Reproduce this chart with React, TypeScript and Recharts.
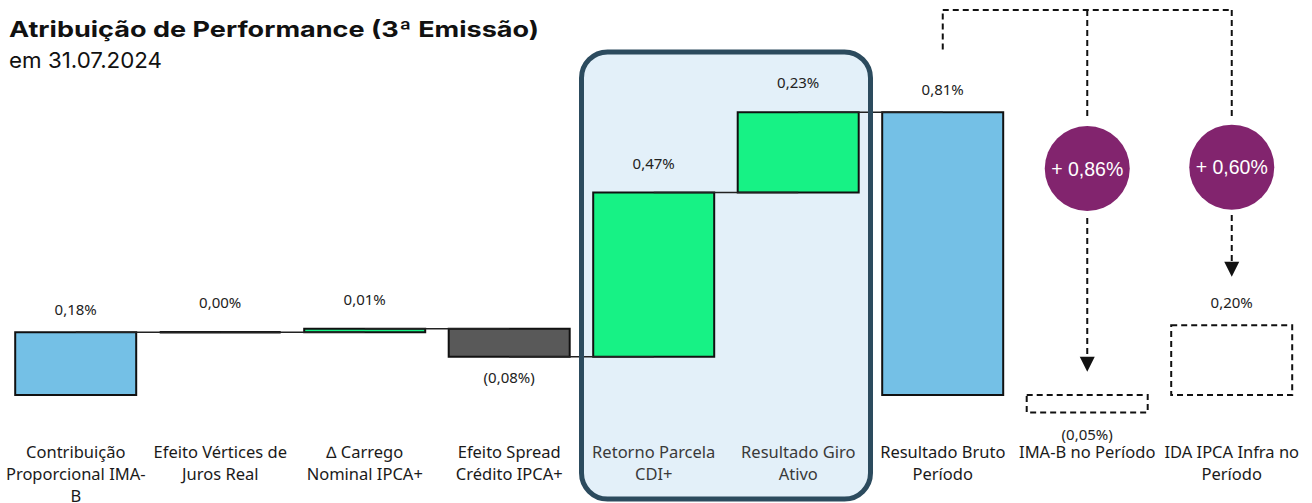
import React from 'react';
import {
  BarChart,
  Bar,
  XAxis,
  YAxis,
  ReferenceArea,
  ReferenceLine,
  ReferenceDot,
  LabelList,
} from 'recharts';

// ---------- data ----------
const categories = [
  'Contribuição Proporcional IMA-B',
  'Efeito Vértices de Juros Real',
  '∆ Carrego Nominal IPCA+',
  'Efeito Spread Crédito IPCA+',
  'Retorno Parcela CDI+',
  'Resultado Giro Ativo',
  'Resultado Bruto Período',
  'IMA-B no Período',
  'IDA IPCA Infra no Período',
];
const values = [0.18, 0.0, 0.01, -0.08, 0.47, 0.23, 0.81, -0.05, 0.2];
const kinds = ['total', 'step', 'step', 'step', 'step', 'step', 'total', 'benchmark', 'benchmark'];
const tickLines = [
  ['Contribuição', 'Proporcional IMA-', 'B'],
  ['Efeito Vértices de', 'Juros Real'],
  ['∆ Carrego', 'Nominal IPCA+'],
  ['Efeito Spread', 'Crédito IPCA+'],
  ['Retorno Parcela', 'CDI+'],
  ['Resultado Giro', 'Ativo'],
  ['Resultado Bruto', 'Período'],
  ['IMA-B no Período'],
  ['IDA IPCA Infra no', 'Período'],
];
const highlighted = ['Retorno Parcela CDI+', 'Resultado Giro Ativo'];
const bubbleTargets = ['IMA-B no Período', 'IDA IPCA Infra no Período'];
const bubbleLabels = ['+ 0,86%', '+ 0,60%'];
const sourceCategory = 'Resultado Bruto Período';

const title = 'Atribuição de Performance (3ª Emissão)';
const subtitle = 'em 31.07.2024';

// ---------- derived rows ----------
let cum = 0;
const rows = categories.map((name, i) => {
  const v = values[i];
  const kind = kinds[i];
  let low: number;
  let high: number;
  if (kind === 'step') {
    const start = cum;
    cum = Math.round((cum + v) * 10000) / 10000;
    low = Math.min(start, cum);
    high = Math.max(start, cum);
  } else {
    low = Math.min(0, v);
    high = Math.max(0, v);
    if (kind === 'total') cum = v;
  }
  return { name, value: v, kind, range: [low, high], level: cum };
});

const connectors = rows
  .map((r, i) => ({ from: r, to: rows[i + 1] }))
  .filter(
    (c) => c.to && (c.to.kind === 'step' || (c.from.kind === 'step' && c.to.kind === 'total'))
  );

// ---------- styles ----------
const BLUE = '#74C0E6';
const GREEN = '#17F285';
const GRAY = '#595959';
const PURPLE = '#82246E';
const BOX_STROKE = '#2C4B5E';
const BOX_FILL = '#E3F0F9';
const FONT = '"Noto Sans", sans-serif';

// annotation layout (in value units of the hidden y axis)
const BOX_TOP = 0.983;
const BOX_BOTTOM = -0.298;
const DASH_TOP = 1.103;
const SRC_DASH_BOTTOM = 0.99;
const BUBBLE_Y = [0.649, 0.653];
const DASH_BREAK = 0.788;
const DASH_RESUME = [0.507, 0.516];
const ARROW_BASE = [0.11, 0.382];
const ARROW_TIP = [0.067, 0.339];

const fmt = (v: number) => {
  const s = Math.abs(v).toFixed(2).replace('.', ',') + '%';
  return v < 0 ? `(${s})` : s;
};

const BarShape = (props: any) => {
  let { x, y, width, height } = props;
  const payload = props.payload;
  if (height < 0) {
    y = y + height;
    height = -height;
  }
  const d = `M${x},${y}h${width}v${height}h${-width}Z`;
  if (payload.kind === 'benchmark') {
    return <path d={d} fill="none" stroke="#111" strokeWidth={2} strokeDasharray="6 4" />;
  }
  const fill = payload.kind === 'total' ? BLUE : payload.value > 0 ? GREEN : GRAY;
  return (
    <g>
      {height > 0 && <rect x={x} y={y} width={width} height={height} fill={fill} />}
      <path d={d} fill="none" stroke="#111" strokeWidth={payload.value === 0 ? 2.5 : 2} />
    </g>
  );
};

const renderValueLabel = (props: any) => {
  const vb = props.viewBox || {};
  const x = props.x ?? vb.x;
  const y = props.y ?? vb.y;
  const width = props.width ?? vb.width;
  const height = props.height ?? vb.height;
  const row = rows[props.index];
  if (!row) return null;
  const top = Math.min(y, y + height);
  const bottom = Math.max(y, y + height);
  const neg = row.value < 0;
  const off = neg ? (row.kind === 'step' ? 20 : 21.5) : row.kind === 'step' ? 30 : 23;
  const ty = neg ? bottom + off : top - off;
  return (
    <text
      x={x + width / 2}
      y={ty}
      textAnchor="middle"
      dominantBaseline="central"
      fontSize={15}
      fontFamily={FONT}
      fill="#222"
    >
      {fmt(row.value)}
    </text>
  );
};

const renderTick = (props: any) => {
  const { x, y, payload } = props;
  const idx = categories.indexOf(payload.value);
  const lines = tickLines[idx] || [payload.value];
  const inBox = highlighted.includes(payload.value);
  return (
    <text
      x={x}
      y={y}
      textAnchor="middle"
      fontSize={16.5}
      fontFamily={FONT}
      fill={inBox ? '#3a3a3a' : '#1a1a1a'}
    >
      {lines.map((l, i) => (
        <tspan key={i} x={x} dy={i === 0 ? 19.5 : 22}>
          {l}
        </tspan>
      ))}
    </text>
  );
};

const Bubble = (label: string) => (props: any) => (
  <g>
    <circle cx={props.cx} cy={props.cy} r={42.5} fill={PURPLE} />
    <text
      x={props.cx}
      y={props.cy}
      textAnchor="middle"
      dominantBaseline="central"
      fill="#fff"
      fontSize={19.5}
      fontFamily='"Liberation Sans", Arial, sans-serif'
    >
      {label}
    </text>
  </g>
);

const Arrow = (props: any) => (
  <polygon
    points={`${props.cx - 7.5},${props.cy - 15} ${props.cx + 7.5},${props.cy - 15} ${props.cx},${props.cy}`}
    fill="#111"
  />
);

const RoundedBox = (filled: boolean) => (props: any) => (
  <rect
    x={props.x}
    y={props.y}
    width={props.width}
    height={props.height}
    rx={26}
    ry={26}
    fill={filled ? BOX_FILL : 'none'}
    stroke={filled ? 'none' : BOX_STROKE}
    strokeWidth={5}
  />
);

const dash = { stroke: '#111', strokeWidth: 2, strokeDasharray: '6 4' };

export default function App() {
  return (
    <div style={{ position: 'absolute', left: 0, top: 0, width: 1312, height: 503, background: '#fff' }}>
      <BarChart
        width={1312}
        height={503}
        data={rows}
        margin={{ top: 46, right: 8, bottom: 13, left: 3.5 }}
        barCategoryGap="8.1%"
      >
        <XAxis
          dataKey="name"
          interval={0}
          tickLine={false}
          axisLine={false}
          tick={renderTick}
          height={60}
        />
        <YAxis hide domain={[-0.1, 1.0]} allowDataOverflow />
        <ReferenceArea
          x1={highlighted[0]}
          x2={highlighted[1]}
          y1={BOX_BOTTOM}
          y2={BOX_TOP}
          ifOverflow="visible"
          shape={RoundedBox(true)}
        />
        {connectors.map((c, i) => (
          <ReferenceLine
            key={'c' + i}
            segment={[
              { x: c.from.name, y: c.from.level },
              { x: c.to.name, y: c.from.level },
            ]}
            position="middle"
            stroke="#222"
            strokeWidth={1.5}
            ifOverflow="visible"
          />
        ))}
        <Bar dataKey="range" shape={BarShape} isAnimationActive={false}>
          <LabelList dataKey="value" content={renderValueLabel} />
        </Bar>
        <ReferenceArea
          x1={highlighted[0]}
          x2={highlighted[1]}
          y1={BOX_BOTTOM}
          y2={BOX_TOP}
          ifOverflow="visible"
          shape={RoundedBox(false)}
          zIndex={1500}
        />
        {/* dashed annotation lines */}
        <ReferenceLine
          segment={[
            { x: sourceCategory, y: SRC_DASH_BOTTOM },
            { x: sourceCategory, y: DASH_TOP },
          ]}
          position="middle"
          ifOverflow="visible"
          {...dash}
        />
        <ReferenceLine
          segment={[
            { x: sourceCategory, y: DASH_TOP },
            { x: bubbleTargets[1], y: DASH_TOP },
          ]}
          position="middle"
          ifOverflow="visible"
          {...dash}
        />
        {bubbleTargets.map((t, i) => (
          <ReferenceLine
            key={'d1' + i}
            segment={[
              { x: t, y: DASH_TOP },
              { x: t, y: DASH_BREAK },
            ]}
            position="middle"
            ifOverflow="visible"
            {...dash}
          />
        ))}
        {bubbleTargets.map((t, i) => (
          <ReferenceLine
            key={'d2' + i}
            segment={[
              { x: t, y: DASH_RESUME[i] },
              { x: t, y: ARROW_BASE[i] },
            ]}
            position="middle"
            ifOverflow="visible"
            {...dash}
          />
        ))}
        {bubbleTargets.map((t, i) => (
          <ReferenceDot
            key={'a' + i}
            x={t}
            y={ARROW_TIP[i]}
            r={8}
            ifOverflow="visible"
            shape={Arrow}
          />
        ))}
        {bubbleTargets.map((t, i) => (
          <ReferenceDot
            key={'b' + i}
            x={t}
            y={BUBBLE_Y[i]}
            r={42.5}
            ifOverflow="visible"
            shape={Bubble(bubbleLabels[i])}
          />
        ))}
      </BarChart>
      <svg
        width={600}
        height={80}
        style={{ position: 'absolute', left: 0, top: 0, pointerEvents: 'none' }}
      >
        <text
          x={9}
          y={36.7}
          fontSize={22}
          fontWeight={700}
          fontFamily="Inter, sans-serif"
          fill="#111"
          textLength={530}
          lengthAdjust="spacingAndGlyphs"
        >
          {title}
        </text>
        <text
          x={9}
          y={68.3}
          fontSize={22}
          fontFamily="Inter, sans-serif"
          fill="#111"
          textLength={153}
          lengthAdjust="spacingAndGlyphs"
        >
          {subtitle}
        </text>
      </svg>
    </div>
  );
}
